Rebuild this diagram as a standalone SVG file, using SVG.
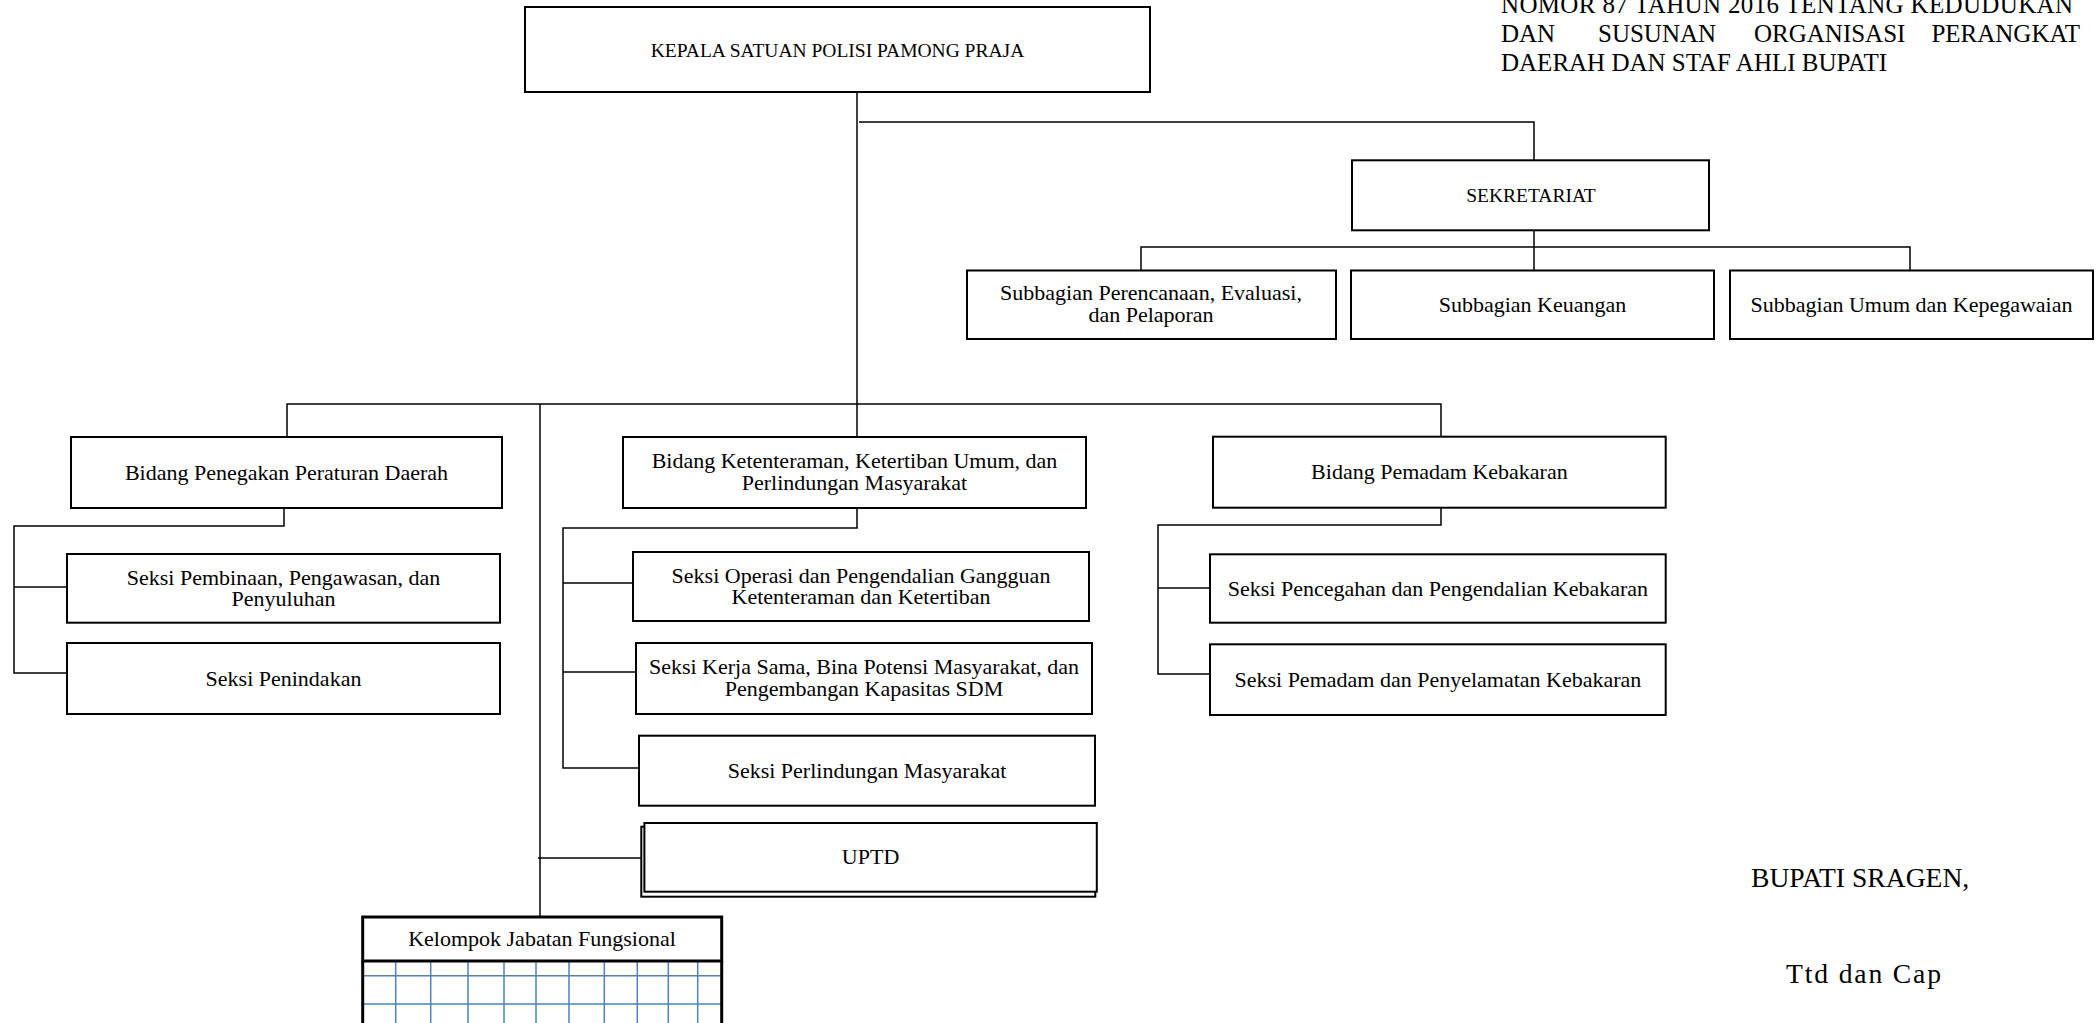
<svg xmlns="http://www.w3.org/2000/svg" width="2096" height="1023" viewBox="0 0 2096 1023">
<style>
  .box { fill: #ffffff; stroke: #000000; stroke-width: 2; }
  .conn { fill: none; stroke: #000000; stroke-width: 1.5; }
  .t { font-family: "Liberation Serif", "Times New Roman", serif; font-size: 22px; fill: #000000; text-anchor: middle; }
  .tc { font-family: "Liberation Serif", "Times New Roman", serif; font-size: 19.5px; fill: #000000; text-anchor: middle; }
  .hdr { font-family: "Liberation Serif", "Times New Roman", serif; font-size: 25px; fill: #000000; }
  .sig { font-family: "Liberation Serif", "Times New Roman", serif; font-size: 27.6px; fill: #000000; }
  .grid { stroke: #4f81bd; stroke-width: 1.5; fill: none; }
</style>
<rect x="0" y="0" width="2096" height="1023" fill="#ffffff"/>

<g id="header-text">
  <text class="hdr" x="1501" y="13" textLength="572" lengthAdjust="spacing">NOMOR 87 TAHUN 2016 TENTANG KEDUDUKAN</text>
  <text class="hdr" y="42.3"><tspan x="1501">DAN</tspan><tspan x="1598">SUSUNAN</tspan><tspan x="1754">ORGANISASI</tspan><tspan x="2080" text-anchor="end">PERANGKAT</tspan></text>
  <text class="hdr" x="1501" y="71">DAERAH DAN STAF AHLI BUPATI</text>
</g>

<g id="connectors">
  <path class="conn" d="M857,92 V437"/>
  <path class="conn" d="M859,122 H1534 V160"/>
  <path class="conn" d="M1534,230 V271"/>
  <path class="conn" d="M1141,271 V247 H1910 V271"/>
  <path class="conn" d="M287,437 V404 H1441 V437"/>
  <path class="conn" d="M540,404 V917"/>
  <path class="conn" d="M538,858 H642"/>
  <path class="conn" d="M284,508 V526 H14 V673 H67"/>
  <path class="conn" d="M14,587 H67"/>
  <path class="conn" d="M857,508 V528 H563 V768 H639"/>
  <path class="conn" d="M563,583 H633"/>
  <path class="conn" d="M563,672 H636"/>
  <path class="conn" d="M1441,508 V525 H1158 V674 H1210"/>
  <path class="conn" d="M1158,588 H1210"/>
</g>

<g id="kepala">
  <rect class="box" x="525" y="7" width="625" height="85"/>
  <text class="tc" x="837.5" y="57">KEPALA SATUAN POLISI PAMONG PRAJA</text>
</g>

<g id="sekretariat">
  <rect class="box" x="1352" y="160.3" width="357" height="70"/>
  <text class="tc" x="1531" y="202.3">SEKRETARIAT</text>
</g>

<g id="sub-perencanaan">
  <rect class="box" x="967" y="270.5" width="369" height="68.5"/>
  <text class="t" x="1151" y="300">Subbagian Perencanaan, Evaluasi,</text>
  <text class="t" x="1151" y="322">dan Pelaporan</text>
</g>

<g id="sub-keuangan">
  <rect class="box" x="1351" y="270.5" width="363" height="68.5"/>
  <text class="t" x="1532.5" y="312">Subbagian Keuangan</text>
</g>

<g id="sub-umum">
  <rect class="box" x="1730" y="270.5" width="363" height="68.5"/>
  <text class="t" x="1911.5" y="312">Subbagian Umum dan Kepegawaian</text>
</g>

<g id="bidang-penegakan">
  <rect class="box" x="71" y="437" width="431" height="71"/>
  <text class="t" x="286.5" y="480">Bidang Penegakan Peraturan Daerah</text>
</g>

<g id="seksi-pembinaan">
  <rect class="box" x="67" y="554" width="433" height="68.7"/>
  <text class="t" x="283.5" y="584.5">Seksi Pembinaan, Pengawasan, dan</text>
  <text class="t" x="283.5" y="606.3">Penyuluhan</text>
</g>

<g id="seksi-penindakan">
  <rect class="box" x="67" y="643" width="433" height="71"/>
  <text class="t" x="283.5" y="686">Seksi Penindakan</text>
</g>

<g id="bidang-ketenteraman">
  <rect class="box" x="623" y="437" width="463" height="71"/>
  <text class="t" x="854.5" y="467.5">Bidang Ketenteraman, Ketertiban Umum, dan</text>
  <text class="t" x="854.5" y="489.5">Perlindungan Masyarakat</text>
</g>

<g id="seksi-operasi">
  <rect class="box" x="633" y="552" width="456" height="69"/>
  <text class="t" x="861" y="582.5">Seksi Operasi dan Pengendalian Gangguan</text>
  <text class="t" x="861" y="604.4">Ketenteraman dan Ketertiban</text>
</g>

<g id="seksi-kerjasama">
  <rect class="box" x="636" y="643" width="456" height="71"/>
  <text class="t" x="864" y="674.4">Seksi Kerja Sama, Bina Potensi Masyarakat, dan</text>
  <text class="t" x="864" y="696.3">Pengembangan Kapasitas SDM</text>
</g>

<g id="seksi-perlindungan">
  <rect class="box" x="639" y="735.7" width="456" height="70"/>
  <text class="t" x="867" y="777.7">Seksi Perlindungan Masyarakat</text>
</g>

<g id="uptd">
  <rect class="box" x="641.3" y="826.7" width="454" height="70"/>
  <rect class="box" x="644.4" y="823" width="452.4" height="68.7"/>
  <text class="t" x="870.6" y="864">UPTD</text>
</g>

<g id="bidang-pemadam">
  <rect class="box" x="1213" y="436.7" width="452.7" height="71"/>
  <text class="t" x="1439.4" y="479.3">Bidang Pemadam Kebakaran</text>
</g>

<g id="seksi-pencegahan">
  <rect class="box" x="1210" y="554.3" width="455.7" height="68.4"/>
  <text class="t" x="1437.9" y="595.7">Seksi Pencegahan dan Pengendalian Kebakaran</text>
</g>

<g id="seksi-pemadam">
  <rect class="box" x="1210" y="644.3" width="455.7" height="70.7"/>
  <text class="t" x="1437.9" y="686.7">Seksi Pemadam dan Penyelamatan Kebakaran</text>
</g>

<g id="kelompok-jabatan">
  <g class="grid">
    <line x1="363" y1="975.7" x2="722" y2="975.7"/>
    <line x1="363" y1="1004" x2="722" y2="1004"/>
    <line x1="395.7" y1="961" x2="395.7" y2="1023"/>
    <line x1="430.7" y1="961" x2="430.7" y2="1023"/>
    <line x1="468" y1="961" x2="468" y2="1023"/>
    <line x1="504" y1="961" x2="504" y2="1023"/>
    <line x1="536" y1="961" x2="536" y2="1023"/>
    <line x1="569" y1="961" x2="569" y2="1023"/>
    <line x1="604.3" y1="961" x2="604.3" y2="1023"/>
    <line x1="637.3" y1="961" x2="637.3" y2="1023"/>
    <line x1="668.3" y1="961" x2="668.3" y2="1023"/>
    <line x1="697.7" y1="961" x2="697.7" y2="1023"/>
  </g>
  <rect x="362.7" y="917" width="359" height="44" fill="#ffffff" stroke="#000000" stroke-width="3"/>
  <path d="M362.7,961 V1023 M721.7,961 V1023" stroke="#000000" stroke-width="3" fill="none"/>
  <text class="t" x="542" y="945.7">Kelompok Jabatan Fungsional</text>
</g>

<g id="signature">
  <text class="sig" x="1751" y="886.7">BUPATI SRAGEN,</text>
  <text class="sig" x="1786" y="983" textLength="155" lengthAdjust="spacing">Ttd dan Cap</text>
</g>
</svg>
